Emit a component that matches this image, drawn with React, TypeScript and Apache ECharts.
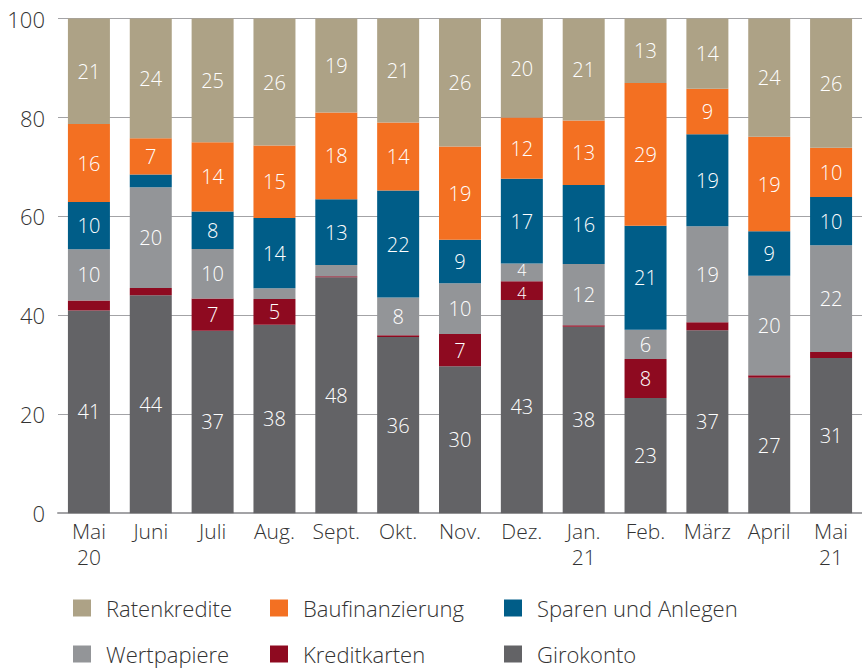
import React, { useEffect, useRef } from "react";
import * as echarts from "echarts";

const categories = ["Mai\n20", "Juni", "Juli", "Aug.", "Sept.", "Okt.", "Nov.", "Dez.", "Jan.\n21", "Feb.", "März", "April", "Mai\n21"];
const girokonto = [41.0, 44.05, 36.9, 38.1, 47.7, 35.6, 29.7, 43.1, 37.7, 23.3, 37.0, 27.4, 31.4];
const kreditkarten = [2.0, 1.5, 6.5, 5.2, 0.2, 0.4, 6.55, 3.8, 0.3, 7.9, 1.6, 0.5, 1.2];
const wertpapiere = [10.35, 20.35, 10.0, 2.2, 2.3, 7.6, 10.25, 3.6, 12.4, 5.9, 19.4, 20.1, 21.6];
const sparenUndAnlegen = [9.55, 2.6, 7.6, 14.2, 13.3, 21.65, 8.8, 17.1, 15.95, 21.0, 18.6, 9.0, 9.75];
const baufinanzierung = [15.8, 7.3, 14.0, 14.65, 17.5, 13.75, 18.85, 12.4, 13.05, 28.9, 9.2, 19.1, 9.95];
const ratenkredite = [21.3, 24.2, 25.0, 25.65, 19.0, 21.0, 25.85, 20.0, 20.6, 13.0, 14.2, 23.9, 26.1];
const yTicks = [0, 20, 40, 60, 80, 100];

const seriesDefs = [
  { name: "Girokonto", data: girokonto, color: "#636366", smallShift: 0 },
  { name: "Kreditkarten", data: kreditkarten, color: "#8E0A20", smallShift: 2 },
  { name: "Wertpapiere", data: wertpapiere, color: "#939598", smallShift: -2 },
  { name: "Sparen und Anlegen", data: sparenUndAnlegen, color: "#005D88", smallShift: 0 },
  { name: "Baufinanzierung", data: baufinanzierung, color: "#F37022", smallShift: 0 },
  { name: "Ratenkredite", data: ratenkredite, color: "#ADA286", smallShift: 0 },
];

const FONT = "Open Sans";

const legendPos: Record<string, [number, number]> = {
  Ratenkredite: [73, 597],
  Baufinanzierung: [270, 597],
  "Sparen und Anlegen": [504, 597],
  Wertpapiere: [73, 643],
  Kreditkarten: [270, 643],
  Girokonto: [504, 643],
};

export default function App() {
  const ref = useRef<HTMLDivElement>(null);
  useEffect(() => {
    if (!ref.current) return;
    const chart = echarts.init(ref.current, undefined, { renderer: "svg" });
    const colorOf: Record<string, string> = {};
    seriesDefs.forEach((s) => (colorOf[s.name] = s.color));
    chart.setOption({
      animation: false,
      textStyle: { fontFamily: FONT },
      grid: { left: 58, top: 18.6, width: 811, height: 494.6, containLabel: false },
      legend: Object.keys(legendPos).map((name) => ({
        data: [{ name, itemStyle: { color: colorOf[name] } }],
        left: legendPos[name][0],
        top: legendPos[name][1],
        padding: 0,
        itemWidth: 18,
        itemHeight: 17,
        icon: "rect",
        selectedMode: false,
        textStyle: { fontFamily: FONT, fontSize: 22, color: "#333333", fontWeight: 300, padding: [0, 0, 0, 10] },
      })),
      xAxis: {
        type: "category",
        data: categories,
        axisTick: { show: false },
        axisLine: { show: true, lineStyle: { color: "#A3A3A6", width: 2 } },
        axisLabel: {
          fontFamily: FONT,
          fontSize: 21,
          fontWeight: 300,
          color: "#333333",
          lineHeight: 26,
          margin: 5,
          interval: 0,
        },
      },
      yAxis: {
        type: "value",
        min: 0,
        max: 100,
        interval: 20,
        axisLine: { show: false },
        axisTick: { show: false },
        splitLine: { show: true, lineStyle: { color: "#A3A3A6", width: 1.2 } },
        axisLabel: {
          fontFamily: FONT,
          fontSize: 22,
          fontWeight: 300,
          color: "#333333",
          margin: 13,
          formatter: (v: number) => (yTicks.includes(v) ? String(v) : ""),
        },
      },
      series: seriesDefs.map((s) => ({
        name: s.name,
        type: "bar",
        stack: "total",
        data: s.data.map((v) =>
          v < 5 ? { value: v, label: { fontSize: 16, lineHeight: 14, offset: [0, s.smallShift] } } : v
        ),
        barWidth: 42,
        itemStyle: { color: s.color },
        label: {
          show: true,
          position: "inside",
          color: "#FFFFFF",
          fontFamily: FONT,
          fontSize: 20,
          fontWeight: 300,
          lineHeight: 16,
          formatter: (p: any) => (p.value >= 3 ? String(Math.round(p.value)) : ""),
        },
      })),
    });
    return () => chart.dispose();
  }, []);
  return (
    <div
      ref={ref}
      style={{ position: "fixed", left: 0, top: 0, width: 862, height: 670, background: "#ffffff" }}
    />
  );
}
